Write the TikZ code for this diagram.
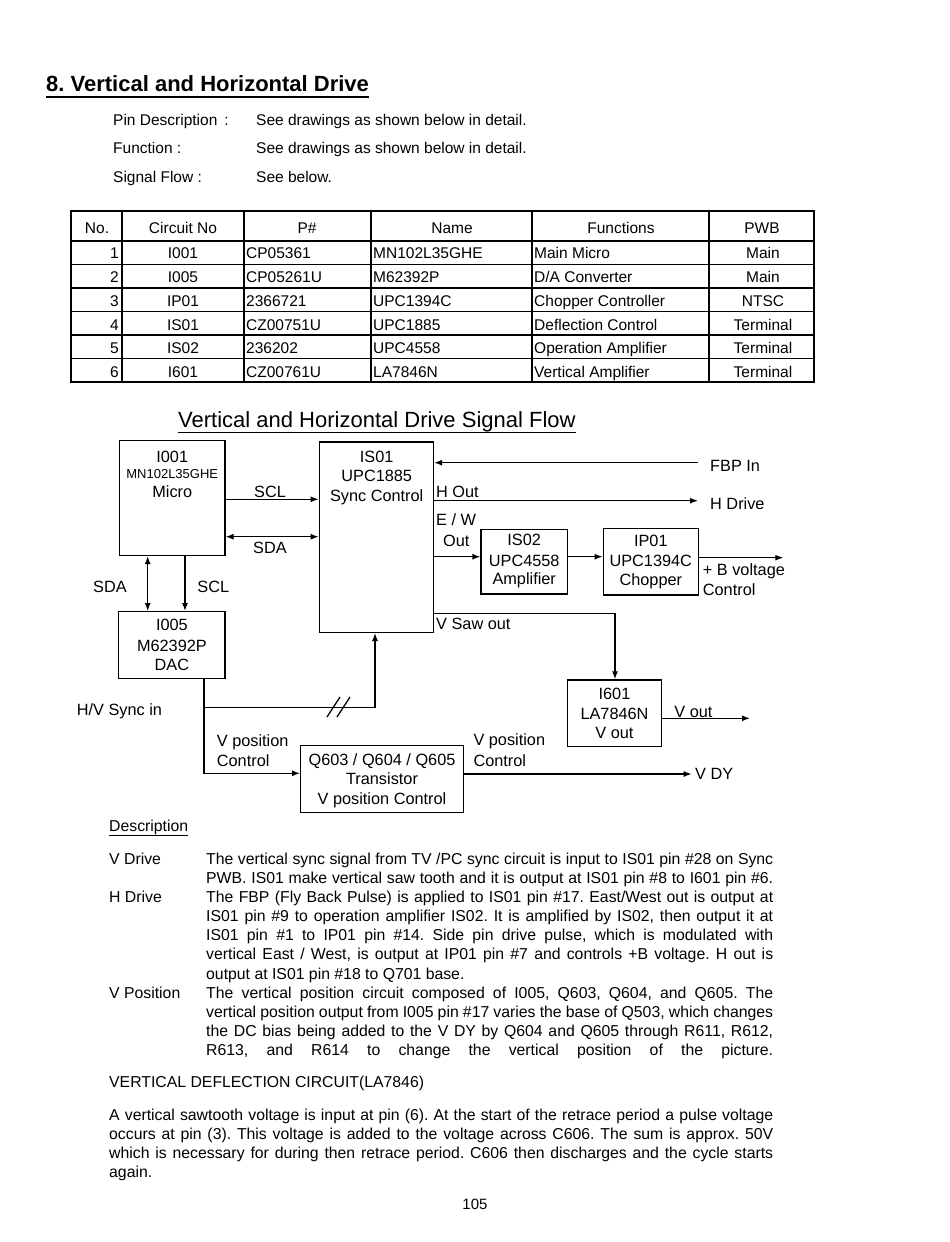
\documentclass[tikz,border=0pt]{standalone}
\usepackage{fontspec}
\setmainfont{Liberation Sans}
\usetikzlibrary{arrows.meta}
\newcommand\dfont{\fontsize{16.3pt}{19.5pt}\selectfont}
\newcommand\sfont{\fontsize{13pt}{15pt}\selectfont}
\newcommand\tfont{\fontsize{15.5pt}{18pt}\selectfont}
\newcommand\bfont{\fontsize{15.8pt}{19.05pt}\selectfont\frenchspacing}
\newcommand\hfont{\fontsize{22pt}{26pt}\selectfont}
\newcommand\trow[8]{%
  \node[tr] (no#1) at (119,#2) {#3};
  \node[tc] (cn#1) at (183,#2) {#4};
  \node[tl] (pn#1) at (246,#2) {#5};
  \node[tl] (nm#1) at (373,#2) {#6};
  \node[tl] (fn#1) at (534,#2) {#7};
  \node[tc] (pw#1) at (763,#2) {#8};
}
\begin{document}
\frenchspacing
\begin{tikzpicture}[x=1pt,y=-1pt,
  arr/.style={line width=1.3pt,-{Latex[length=8pt,width=6pt]}},
  darr/.style={line width=1.3pt,{Latex[length=8pt,width=6pt]}-{Latex[length=8pt,width=6pt]}},
  ln/.style={line width=1.3pt},
  box/.style={draw,line width=1.3pt,inner sep=0pt},
  dl/.style={inner sep=0pt,text height=11.7pt,text depth=0pt,font=\dfont,anchor=west},
  dc/.style={dl,anchor=center},
  sc/.style={inner sep=0pt,text height=9.3pt,text depth=0pt,font=\sfont,anchor=center},
  tl/.style={inner sep=0pt,text height=11.1pt,text depth=0pt,font=\tfont,anchor=west},
  tc/.style={tl,anchor=center},
  tr/.style={tl,anchor=east},
  bl/.style={inner sep=0pt,font=\bfont,anchor=base west},
  tb/.style={line width=1.2pt}
]
\fill[white] (0,0) rectangle (950,1242);
\useasboundingbox (0,0) rectangle (950,1242);

% ---- heading ----
\node[inner sep=0pt,anchor=base west,font=\hfont\bfseries] (title) at (46,91.3) {8. Vertical and Horizontal Drive};
\draw[line width=2pt] ([yshift=-5.5pt]title.base west) -- ([yshift=-5.5pt]title.base east);

\node[tl] (pd) at (113,119.5) {Pin Description\hspace{7pt}:};
\node[tl] (pdv) at (256,119.5) {See drawings as shown below in detail.};
\node[tl] (fu) at (113,148) {Function :};
\node[tl] (fuv) at (256,148) {See drawings as shown below in detail.};
\node[tl] (sf) at (113,176.5) {Signal Flow :};
\node[tl] (sfv) at (256,176.5) {See below.};

% ---- table ----
\draw[tb] (71,211) rectangle (814,382);
\draw[line width=1.8pt] (71,241) -- (814,241);
\foreach \yy in {264.5,288,311.5,335,358.5} \draw[tb] (71,\yy) -- (814,\yy);
\foreach \xx in {122,244,371,532,709} \draw[tb] (\xx,211) -- (\xx,382);
\node[tc] (h1) at (97,228) {No.};
\node[tc] (h2) at (183,228) {Circuit No};
\node[tc] (h3) at (307,228) {P\#};
\node[tc] (h4) at (452,228) {Name};
\node[tc] (h5) at (621,228) {Functions};
\node[tc] (h6) at (762,228) {PWB};
\trow{1}{253}{1}{I001}{CP05361}{MN102L35GHE}{Main Micro}{Main}
\trow{2}{277}{2}{I005}{CP05261U}{M62392P}{D/A Converter}{Main}
\trow{3}{300.5}{3}{IP01}{2366721}{UPC1394C}{Chopper Controller}{NTSC}
\trow{4}{324.5}{4}{IS01}{CZ00751U}{UPC1885}{Deflection Control}{Terminal}
\trow{5}{348}{5}{IS02}{236202}{UPC4558}{Operation Amplifier}{Terminal}
\trow{6}{372}{6}{I601}{CZ00761U}{LA7846N}{Vertical Amplifier}{Terminal}

% ---- diagram title ----
\node[inner sep=0pt,anchor=base west,font=\fontsize{22pt}{26pt}\selectfont] (dtitle) at (178,427.9) {Vertical and Horizontal Drive Signal Flow};
\draw[line width=1.4pt] ([yshift=-4.3pt]dtitle.base west) -- ([yshift=-4.3pt]dtitle.base east);

% ---- boxes ----
\node[box,minimum width=105.5pt,minimum height=115pt] (micro) at (172.25,498) {};
\node[dc] (microa) at (172.25,456.7) {I001};
\node[sc] (microb) at (172.25,474) {MN102L35GHE};
\node[dc] (microc) at (172.25,491.7) {Micro};

\node[box,minimum width=114.2pt,minimum height=190.3pt] (is01) at (376.4,537.2) {};
\node[dc] (is01a) at (376.7,456.7) {IS01};
\node[dc] (is01b) at (376.7,476) {UPC1885};
\node[dc] (is01c) at (376.7,495.7) {Sync Control};

\node[box,minimum width=106.3pt,minimum height=66.6pt] (dac) at (171.9,645) {};
\node[dc] (daca) at (171.9,625) {I005};
\node[dc] (dacb) at (171.9,645.7) {M62392P};
\node[dc] (dacc) at (171.9,665) {DAC};

\node[box,minimum width=162.6pt,minimum height=67pt] (qt) at (382,779.2) {};
\node[dc] (qta) at (382,760) {Q603 / Q604 / Q605};
\node[dc] (qtb) at (382,779) {Transistor};
\node[dc] (qtc) at (382,798.3) {V position Control};

\node[box,minimum width=94.4pt,minimum height=66.7pt] (i601) at (614.5,713.3) {};
\node[dc] (i601a) at (614.5,693.3) {I601};
\node[dc] (i601b) at (614.5,713.3) {LA7846N};
\node[dc] (i601c) at (614.5,732.7) {V out};

\node[box,minimum width=86.3pt,minimum height=64.7pt] (is02) at (524.2,561.7) {};
\node[dc] (is02a) at (524.2,540) {IS02};
\node[dc] (is02b) at (524.2,560.7) {UPC4558};
\node[dc] (is02c) at (524.2,578.3) {Amplifier};

\node[box,minimum width=95pt,minimum height=66.7pt] (ip01) at (650.8,561.7) {};
\node[dc] (ip01a) at (650.8,541) {IP01};
\node[dc] (ip01b) at (650.8,560.7) {UPC1394C};
\node[dc] (ip01c) at (650.8,580) {Chopper};

% ---- free ends ----
\coordinate (fbp) at (698,462.7);
\coordinate (hdrv) at (698,500.7);
\coordinate (bout) at (783.3,557.7);
\coordinate (vout) at (750,718.3);
\coordinate (vdy) at (691.7,774);
\coordinate (j1) at (204,707.3);
\coordinate (j2) at (204,773.3);
\coordinate (j3) at (375,707.3);
\coordinate (j4) at (615,613.3);

% ---- connectors ----
\draw[arr] (micro.east |- 0,499.3) -- (is01.west |- 0,499.3);
\draw[darr] (micro.east |- 0,536.7) -- (is01.west |- 0,536.7);
\draw[darr] (micro.south -| 147.7,0) -- (dac.north -| 147.7,0);
\draw[arr] (micro.south -| 185,0) -- (dac.north -| 185,0);
\draw[arr] (dac.south -| j1) -- (j2) -- (qt.west |- j2);
\draw[arr] (j1) -- (j3) -- (is01.south -| j3);
\draw[ln] (327,717) -- (340,697) (337,717) -- (350,697);
\draw[arr] (is01.east |- j4) -- (j4) -- (i601.north -| j4);
\draw[arr] (fbp) -- (is01.east |- fbp);
\draw[arr] (is01.east |- hdrv) -- (hdrv);
\draw[arr] (is01.east |- 0,556.7) -- (is02.west |- 0,556.7);
\draw[arr] (is02.east |- 0,556.7) -- (ip01.west |- 0,556.7);
\draw[arr] (ip01.east |- bout) -- (bout);
\draw[arr] (i601.east |- vout) -- (vout);
\draw[arr] (qt.east |- vdy) -- (vdy);

% ---- labels ----
\node[dc] (lscl) at (270,492) {SCL};
\node[dc] (lsda) at (270,548) {SDA};
\node[dc] (lsda2) at (110,586.7) {SDA};
\node[dc] (lscl2) at (213.3,586.7) {SCL};
\node[dl] (lhv) at (76.7,709.3) {H/V Sync in};
\node[dl] (lvp1) at (216.7,740.7) {V position};
\node[dl] (lvp2) at (216.7,760.7) {Control};
\node[dl] (lvp3) at (473.3,740) {V position};
\node[dl] (lvp4) at (473.3,760.7) {Control};
\node[dl] (lvsaw) at (436,624) {V Saw out};
\node[dc] (lvout) at (693.5,711.2) {V out};
\node[dl] (lvdy) at (695,774) {V DY};
\node[dl] (lfbp) at (710,466) {FBP In};
\node[dl] (lhout) at (436,491.7) {H Out};
\node[dl] (lhdrv) at (710,504) {H Drive};
\node[dl] (lew) at (436,520) {E / W};
\node[dl] (lewo) at (443,541) {Out};
\node[dl] (lbv) at (702.7,570) {+ B voltage};
\node[dl] (lbc) at (702.7,590) {Control};

% ---- description ----
\node[bl] (desc) at (109,831.6) {Description};
\draw[line width=1pt] ([yshift=-3.5pt]desc.base west) -- ([yshift=-3.5pt]desc.base east);

\node[bl] (vdl) at (109,864.7) {V Drive};
\node[bl] (vdt) at (206,864.7) {\parbox[t]{567pt}{\bfont\parfillskip=0pt The vertical sync signal from TV /PC sync circuit is input to IS01 pin \#28 on Sync\linebreak PWB. IS01 make vertical saw tooth and it is output at IS01 pin \#8 to I601 pin \#6.}};
\node[bl] (hdl) at (109,902.8) {H Drive};
\node[bl] (hdt) at (206,902.8) {\parbox[t]{567pt}{\bfont The FBP (Fly Back Pulse) is applied to IS01 pin \#17. East/West out is output at\linebreak IS01 pin \#9 to operation amplifier IS02. It is amplified by IS02, then output it at\linebreak IS01 pin \#1 to IP01 pin \#14. Side pin drive pulse, which is modulated with\linebreak vertical East / West, is output at IP01 pin \#7 and controls +B voltage. H out is\linebreak output at IS01 pin \#18 to Q701 base.}};
\node[bl] (vpl) at (109,998) {V Position};
\node[bl] (vpt) at (206,998) {\parbox[t]{567pt}{\bfont\parfillskip=0pt The vertical position circuit composed of I005, Q603, Q604, and Q605. The\linebreak vertical position output from I005 pin \#17 varies the base of Q503, which changes\linebreak the DC bias being added to the V DY by Q604 and Q605 through R611, R612,\linebreak R613, and R614 to change the vertical position of the picture.}};

\node[bl] (vdc) at (109,1087.7) {VERTICAL DEFLECTION CIRCUIT(LA7846)};
\node[bl] (vdp) at (109,1120.7) {\parbox[t]{664pt}{\bfont A vertical sawtooth voltage is input at pin (6). At the start of the retrace period a pulse voltage\linebreak occurs at pin (3). This voltage is added to the voltage across C606. The sum is approx. 50V\linebreak which is necessary for during then retrace period. C606 then discharges and the cycle starts\linebreak again.}};

\node[inner sep=0pt,font=\fontsize{15pt}{18pt}\selectfont,anchor=base] (pg) at (475,1209.4) {105};
\end{tikzpicture}
\end{document}
